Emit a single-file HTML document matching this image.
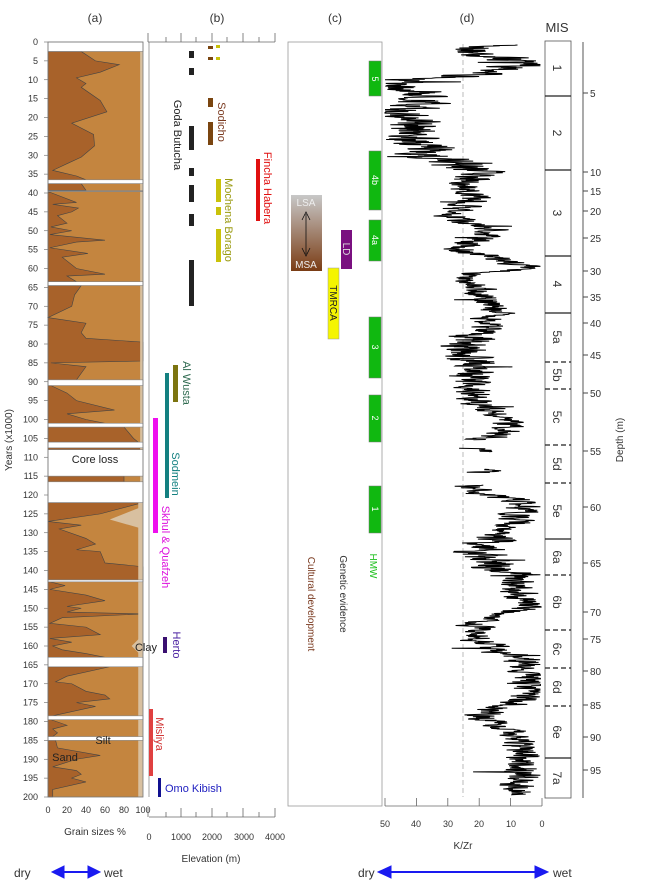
<!DOCTYPE html>
<html><head><meta charset="utf-8"><style>
body{margin:0;background:#fff}
svg{display:block;font-family:"Liberation Sans",Arial,sans-serif}
</style></head><body>
<svg id="s" width="650" height="886" viewBox="0 0 650 886" xmlns="http://www.w3.org/2000/svg">
<defs>
<linearGradient id="g1" x1="0" y1="0" x2="0" y2="1"><stop offset="0" stop-color="#c8c8c8"/><stop offset="1" stop-color="#7a3c14"/></linearGradient>
</defs>
<g font-size="12" fill="#333" text-anchor="middle">
<text x="95" y="22">(a)</text><text x="217" y="22">(b)</text><text x="335" y="22">(c)</text><text x="467" y="22">(d)</text>
<text x="557" y="32" font-size="13">MIS</text>
</g>
<rect x="48" y="51" width="95" height="746" fill="#c4853f"/>
<g id="sand" fill="#a8622a" stroke="#444" stroke-width="0.6"></g>
<g id="clay" fill="#d8c0a0"></g>
<g id="gaps" fill="#fff" stroke="#888" stroke-width="0.6"></g>
<rect x="48" y="42" width="95" height="755" fill="none" stroke="#777" stroke-width="0.8"/>
<g id="ya" font-size="9" fill="#333" text-anchor="end"></g>
<text x="95" y="463" font-size="11" text-anchor="middle" fill="#222">Core loss</text>
<text x="146" y="651" font-size="11" text-anchor="middle" fill="#222">Clay</text>
<text x="103" y="744" font-size="11" text-anchor="middle" fill="#222">Silt</text>
<text x="65" y="761" font-size="11" text-anchor="middle" fill="#222">Sand</text>
<g font-size="9" fill="#333" text-anchor="middle">
<text x="48" y="813">0</text><text x="67" y="813">20</text><text x="86" y="813">40</text><text x="105" y="813">60</text><text x="124" y="813">80</text><text x="143" y="813">100</text>
</g>
<text x="95" y="835" font-size="10" text-anchor="middle" fill="#333">Grain sizes %</text>
<text transform="translate(12,440) rotate(-90)" font-size="10" text-anchor="middle" fill="#333">Years (x1000)</text>
<line x1="149" y1="42" x2="149" y2="797" stroke="#888" stroke-width="0.8"/>
<line x1="148" y1="42" x2="275" y2="42" stroke="#666" stroke-width="0.8"/>
<line x1="149" y1="817" x2="275" y2="817" stroke="#666" stroke-width="0.8"/>
<g id="bt" stroke="#666" stroke-width="0.8"></g>
<g font-size="9" fill="#333" text-anchor="middle">
<text x="149" y="840">0</text><text x="181" y="840">1000</text><text x="212" y="840">2000</text><text x="244" y="840">3000</text><text x="275" y="840">4000</text>
</g>
<text x="211" y="862" font-size="10" text-anchor="middle" fill="#333">Elevation (m)</text>
<g>
<g fill="#222"><rect x="189" y="51" width="5" height="7"/><rect x="189" y="68" width="5" height="7"/><rect x="189" y="126" width="5" height="24"/><rect x="189" y="168" width="5" height="8"/><rect x="189" y="185" width="5" height="17"/><rect x="189" y="214" width="5" height="12"/><rect x="189" y="260" width="5" height="46"/></g>
<g fill="#7a4510"><rect x="208" y="46" width="5" height="3"/><rect x="208" y="57" width="5" height="3"/><rect x="208" y="98" width="5" height="9"/><rect x="208" y="122" width="5" height="23"/></g>
<g fill="#c9c20a"><rect x="216" y="45" width="4" height="3"/><rect x="216" y="57" width="4" height="3"/><rect x="216" y="179" width="5" height="23"/><rect x="216" y="207" width="5" height="8"/><rect x="216" y="229" width="5" height="33"/></g>
<rect x="256" y="159" width="4" height="62" fill="#e01010"/>
<rect x="173" y="365" width="5" height="37" fill="#7c7410"/>
<rect x="165" y="373" width="4" height="125" fill="#138080"/>
<rect x="153" y="418" width="5" height="115" fill="#ee10ee"/>
<rect x="163" y="637" width="4" height="16" fill="#3a1070"/>
<rect x="149" y="709" width="4" height="67" fill="#e04040"/>
<rect x="158" y="778" width="3" height="19" fill="#101090"/>
</g>
<g font-size="11">
<text transform="translate(174,135) rotate(90)" text-anchor="middle" fill="#222">Goda Butucha</text>
<text transform="translate(218,122) rotate(90)" text-anchor="middle" fill="#7a3a20">Sodicho</text>
<text transform="translate(225,220) rotate(90)" text-anchor="middle" fill="#9a9a10">Mochena Borago</text>
<text transform="translate(264,188) rotate(90)" text-anchor="middle" fill="#e01010">Fincha Habera</text>
<text transform="translate(183,383) rotate(90)" text-anchor="middle" fill="#2f6a50">Al Wusta</text>
<text transform="translate(172,474) rotate(90)" text-anchor="middle" fill="#138080">Sodmein</text>
<text transform="translate(162,547) rotate(90)" text-anchor="middle" fill="#dd10dd">Skhul &amp; Quafzeh</text>
<text transform="translate(173,645) rotate(90)" text-anchor="middle" fill="#4a20a0">Herto</text>
<text transform="translate(156,734) rotate(90)" text-anchor="middle" fill="#d03030">Misliya</text>
<text x="165" y="792" fill="#2020c0">Omo Kibish</text>
</g>
<rect x="288" y="42" width="94" height="764" fill="none" stroke="#999" stroke-width="0.8"/>
<g fill="#10b810" stroke="#777" stroke-width="0.5">
<rect x="369" y="61" width="12" height="35"/><rect x="369" y="151" width="12" height="59"/><rect x="369" y="220" width="12" height="41"/><rect x="369" y="317" width="12" height="61"/><rect x="369" y="395" width="12" height="47"/><rect x="369" y="486" width="12" height="47"/>
</g>
<g font-size="9" fill="#fff">
<text transform="translate(372,79) rotate(90)" text-anchor="middle">5</text>
<text transform="translate(372,180) rotate(90)" text-anchor="middle">4b</text>
<text transform="translate(372,240) rotate(90)" text-anchor="middle">4a</text>
<text transform="translate(372,347) rotate(90)" text-anchor="middle">3</text>
<text transform="translate(372,418) rotate(90)" text-anchor="middle">2</text>
<text transform="translate(372,509) rotate(90)" text-anchor="middle">1</text>
</g>
<rect x="291" y="195" width="31" height="76" fill="url(#g1)"/>
<text x="306" y="206" font-size="10" fill="#eee" text-anchor="middle">LSA</text>
<text x="306" y="268" font-size="10" fill="#eee" text-anchor="middle">MSA</text>
<line x1="306" y1="214" x2="306" y2="254" stroke="#111" stroke-width="0.8"/>
<path d="M302,220 L306,212 L310,220 M302,248 L306,256 L310,248" fill="none" stroke="#111" stroke-width="0.8"/>
<rect x="341" y="230" width="11" height="39" fill="#7a1080"/>
<text transform="translate(343,249) rotate(90)" text-anchor="middle" font-size="10" fill="#ddd">LD</text>
<rect x="328" y="268" width="11" height="71" fill="#f5f500" stroke="#999" stroke-width="0.5"/>
<text transform="translate(330,303) rotate(90)" text-anchor="middle" font-size="10" fill="#222">TMRCA</text>
<text transform="translate(370,566) rotate(90)" text-anchor="middle" font-size="10" fill="#20c020">HMW</text>
<text transform="translate(340,594) rotate(90)" text-anchor="middle" font-size="10" fill="#333">Genetic evidence</text>
<text transform="translate(308,604) rotate(90)" text-anchor="middle" font-size="10" fill="#7a3a20">Cultural development</text>
<line x1="463" y1="44" x2="463" y2="797" stroke="#aaa" stroke-width="0.8" stroke-dasharray="5,3"/>
<g id="kzg" fill="none" stroke="#000" stroke-width="1"></g>
<line x1="385" y1="806" x2="542" y2="806" stroke="#666" stroke-width="0.8"/>
<g stroke="#666" stroke-width="0.8"><line x1="385" y1="806" x2="385" y2="798"/><line x1="416.4" y1="806" x2="416.4" y2="798"/><line x1="447.8" y1="806" x2="447.8" y2="798"/><line x1="479.2" y1="806" x2="479.2" y2="798"/><line x1="510.6" y1="806" x2="510.6" y2="798"/><line x1="542" y1="806" x2="542" y2="798"/></g>
<g font-size="9" fill="#333" text-anchor="middle">
<text x="385" y="827">50</text><text x="416" y="827">40</text><text x="448" y="827">30</text><text x="479" y="827">20</text><text x="511" y="827">10</text><text x="542" y="827">0</text>
</g>
<text x="463" y="849" font-size="10" text-anchor="middle" fill="#333">K/Zr</text>
<rect x="545" y="41" width="26" height="757" fill="#fff" stroke="#555" stroke-width="0.8"/>
<g id="mis"></g>
<line x1="583" y1="42" x2="583" y2="798" stroke="#444" stroke-width="0.9"/>
<g id="dep" font-size="10" fill="#333"></g>
<text transform="translate(623,440) rotate(-90)" font-size="10" text-anchor="middle" fill="#333">Depth (m)</text>
<g font-size="12" fill="#333">
<text x="14" y="877">dry</text><text x="104" y="877">wet</text>
<text x="358" y="877">dry</text><text x="553" y="877">wet</text>
</g>
<g fill="#1a1af0" stroke="#1a1af0">
<line x1="60" y1="872" x2="90" y2="872" stroke-width="2"/>
<polygon points="52,872 64,866 64,878"/><polygon points="100,872 88,866 88,878"/>
<line x1="385" y1="872" x2="540" y2="872" stroke-width="2"/>
<polygon points="378,872 391,866 391,878"/><polygon points="548,872 535,866 535,878"/>
</g>
</svg>
<script>
var NS="http://www.w3.org/2000/svg";
function el(p,t,a){var e=document.createElementNS(NS,t);for(var k in a)e.setAttribute(k,a[k]);document.getElementById(p).appendChild(e);return e;}
function Y(k){return 42+3.775*k;}
function X(p){return 48+0.95*p;}
for(var k=0;k<=200;k+=5){var t=el('ya','text',{x:38,y:Y(k)+3});t.textContent=k;el('gaps','line',{x1:44,x2:48,y1:Y(k),y2:Y(k),stroke:'#666'});}
var segs=[
[[2.5,35],[5,50],[6,75],[8,55],[9.5,30],[11,40],[12,35],[15.5,55],[18.5,62],[21.5,25],[24.5,48],[27.5,49],[30.5,35],[32,22],[34,5],[35.5,30],[36.5,40]],
[[37.5,35],[39.3,40]],
[[39.8,2],[42.5,30],[43,5],[44,32],[45,25],[46,10],[48,20],[49,3],[50,25],[51,2],[52.5,60],[53,30],[54.5,2],[56,42],[57,15],[60,30],[61.5,60],[62,20],[63.5,30]],
[[64.5,35],[67,28],[70,25],[73,0],[74.5,40],[77,35],[78.5,40],[79.5,100],[84.5,100],[85,3],[86,40],[89.5,30]],
[[91,3],[93,20],[95,30],[97.5,70],[98.5,20],[100,40],[101,60]],
[[102,80],[105,90],[106,95]],
[[107.5,100],[108,100]],
[[115,80],[116.5,80]],
[[122,100],[125,55],[127,0],[128,35],[129,12],[131.5,40],[133,50],[134.5,30],[135,55],[138,60],[139,100],[142.5,100]],
[[143,2],[144,18],[145,2],[146.5,40],[148,60],[149.5,20],[150,35],[151,20],[151.5,100],[152.5,15],[154,2],[155,40],[157,55],[158,2],[159,25],[160,5],[161,15],[162,40],[163,60]],
[[165.5,65],[168,20],[169.5,8],[170,25],[172,40],[173,60],[174,65],[175,30],[176,50],[178.5,5]],
[[179.5,3],[181,20],[182,5],[183,10],[184,5]],
[[185,8],[187,10],[189,55],[190,30],[192,5],[193,30],[194,35],[195,25],[196,40],[198,5],[200,5]]];
segs.forEach(function(s){var p=[X(0)+','+Y(s[0][0])];s.forEach(function(q){p.push(X(q[1])+','+Y(q[0]));});p.push(X(0)+','+Y(s[s.length-1][0]));el('sand','polygon',{points:p.join(' ')});});
el('clay','rect',{x:X(95),y:Y(122),width:X(100)-X(95),height:Y(200)-Y(122)});
el('clay','polygon',{points:X(100)+','+Y(123)+' '+X(65)+','+Y(126.5)+' '+X(100)+','+Y(129)});
el('clay','polygon',{points:X(100)+','+Y(157)+' '+X(88)+','+Y(160)+' '+X(100)+','+Y(163)});
el('clay','rect',{x:X(97),y:Y(2.5),width:X(100)-X(97),height:Y(120)-Y(2.5)});
[[0,2.5],[36.5,37.5],[63.5,64.5],[89.5,91],[101,102],[106,107.5],[108,115],[116.5,122],[142.5,143],[163,165.5],[178.5,179.5],[184,185]].forEach(function(g){el('gaps','rect',{x:48,y:Y(g[0]),width:95,height:Y(g[1])-Y(g[0])});});
el('gaps','line',{x1:48,x2:143,y1:Y(39.5),y2:Y(39.5),stroke:'#888','stroke-width':1.5});
[148,166,181,196,212,227,243,259,275].forEach(function(x,i){el('bt','line',{x1:x,x2:x,y1:42,y2:i%2?37:33});el('bt','line',{x1:x,x2:x,y1:817,y2:i%2?812:808});});
var tr=[[45,15],[52,22],[60,10],[68,7],[75,20],[80,45],[90,40],[100,35],[110,46],[120,42],[140,40],[155,35],[165,28],[172,18],[180,25],[200,22],[215,30],[230,15],[250,26],[262,10],[268,4],[276,25],[290,20],[310,14],[330,18],[345,25],[365,22],[380,22],[392,22],[410,17],[430,10],[442,22],[455,20],[478,18],[487,25],[495,18],[502,5],[520,8],[535,14],[548,20],[562,20],[575,8],[590,8],[608,4],[620,20],[635,22],[650,14],[662,6],[680,4],[700,6],[715,20],[728,12],[745,6],[760,6],[790,8]];
function tv(y){for(var i=0;i<tr.length-1;i++){if(y<=tr[i+1][0]){var a=tr[i],b=tr[i+1],f=(y-a[0])/(b[0]-a[0]);return a[1]+f*(b[1]-a[1]);}}return tr[tr.length-1][1];}
var sd=7;function rnd(){sd=(sd*16807)%2147483647;return sd/2147483647;}
var pts=[],y,v,n=0,segsK=[];
for(y=45;y<=795;y+=0.3){
 if((y>440&&y<448)||(y>452&&y<469)||(y>473&&y<485)){if(pts.length){segsK.push(pts);pts=[];}continue;}
 n=n*0.5+(rnd()-0.5)*9;
 var amp=(y<170)?1.6:(y>330&&y<380)||(y>540&&y<575)?1.4:1;
 v=tv(y)+n*amp;
 if(rnd()<0.015)v+=(rnd()-0.5)*25;
 if(v<0.5)v=0.5;if(v>50)v=50;
 pts.push((542-v*3.14).toFixed(1)+','+y.toFixed(1));
}
segsK.push(pts);
segsK.forEach(function(p){el('kzg','polyline',{points:p.join(' ')});});
var mb=[[96,1],[170,1],[256,1],[313,1],[362,0],[389,0],[445,0],[483,0],[539,1],[575,0],[630,0],[668,0],[706,0],[758,1]];
mb.forEach(function(b){el('mis','line',{x1:545,x2:571,y1:b[0],y2:b[0],stroke:'#222','stroke-width':1.2,'stroke-dasharray':b[1]?'':'5,3'});});
var ml=[[68,'1'],[133,'2'],[213,'3'],[284,'4'],[337,'5a'],[375,'5b'],[417,'5c'],[464,'5d'],[511,'5e'],[557,'6a'],[602,'6b'],[649,'6c'],[687,'6d'],[732,'6e'],[778,'7a']];
ml.forEach(function(m){var t=el('mis','text',{transform:'translate(553,'+m[0]+') rotate(90)','font-size':12,'text-anchor':'middle',fill:'#333'});t.textContent=m[1];});
var dp=[[5,93],[10,172],[15,191],[20,211],[25,238],[30,271],[35,297],[40,323],[45,355],[50,393],[55,451],[60,507],[65,563],[70,612],[75,639],[80,671],[85,705],[90,737],[95,770]];
dp.forEach(function(d){el('dep','line',{x1:583,x2:588,y1:d[1],y2:d[1],stroke:'#444'});var t=el('dep','text',{x:590,y:d[1]+4});t.textContent=d[0];});
</script>
</body></html>
